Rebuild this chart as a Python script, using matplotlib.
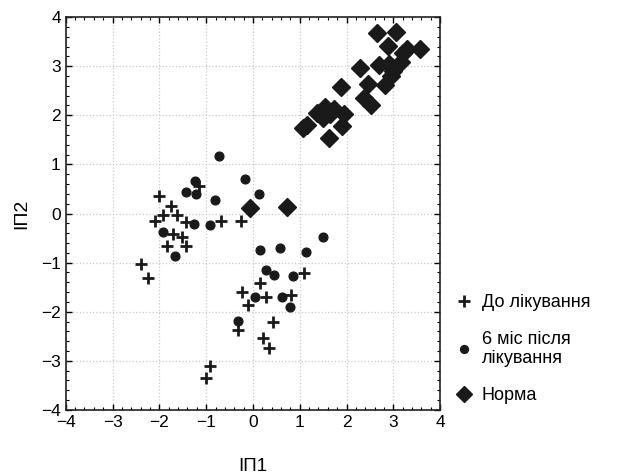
import matplotlib
matplotlib.use('Agg')
import matplotlib.pyplot as plt
from matplotlib.ticker import MultipleLocator

plt.rcParams['font.family'] = ['Liberation Sans Narrow', 'Liberation Sans', 'DejaVu Sans']

# До лікування
before_x = [-2.01, -1.16, -1.76, -1.93, -1.63, -2.10, -1.44, -1.70, -1.51, -1.83,
            -1.44, -2.40, -2.25, -0.68, -0.25, 1.09, 0.15, -0.23, -0.11, 0.27,
            0.82, 0.42, -0.31, 0.21, 0.34, -0.92, -1.00]
before_y = [0.35, 0.56, 0.15, -0.04, -0.04, -0.16, -0.18, -0.41, -0.48, -0.67,
            -0.67, -1.03, -1.31, -0.16, -0.16, -1.21, -1.41, -1.59, -1.87, -1.70,
            -1.65, -2.20, -2.37, -2.54, -2.73, -3.11, -3.35]

# 6 міс після лікування
after_x = [-0.73, -1.23, -1.21, -1.43, -0.82, -0.17, 0.13, -1.27, -0.91, -1.93,
           -1.66, 1.49, 0.15, 0.57, 1.13, 0.27, 0.46, 0.86, 0.04, 0.62, 0.80, -0.31]
after_y = [1.17, 0.66, 0.40, 0.43, 0.27, 0.71, 0.40, -0.21, -0.24, -0.37,
           -0.86, -0.47, -0.75, -0.70, -0.79, -1.15, -1.26, -1.28, -1.70, -1.70,
           -1.90, -2.19]

# Норма
norm_x = [2.64, 3.06, 2.89, 3.57, 3.29, 3.20, 3.16, 2.70, 2.91, 3.00, 2.95,
          2.29, 2.83, 2.45, 2.37, 2.53, 1.88, 1.95, 1.90, 1.63, 1.15, 1.07,
          1.36, 1.53, 1.49, 1.74, 1.65, -0.06, 0.73]
norm_y = [3.67, 3.70, 3.42, 3.36, 3.36, 3.26, 3.08, 3.02, 3.05, 2.91, 2.81,
          2.97, 2.61, 2.64, 2.36, 2.22, 2.57, 2.02, 1.78, 1.53, 1.81, 1.74,
          2.05, 2.16, 1.95, 2.12, 2.02, 0.11, 0.14]

fig = plt.figure(figsize=(6.2, 4.75), dpi=100)
ax = fig.add_axes([0.106, 0.137, 0.604, 0.827])

ax.plot(before_x, before_y, linestyle='none', marker='+', color='#1a1a1a',
        markersize=9, markeredgewidth=2.0, label='До лікування')
ax.plot(after_x, after_y, linestyle='none', marker='o', color='#1a1a1a',
        markersize=6.3, label='6 міс після\nлікування')
ax.plot(norm_x, norm_y, linestyle='none', marker='D', color='#1a1a1a',
        markersize=9.5, markeredgewidth=1, label='Норма')

ax.set_xlim(-4, 4)
ax.set_ylim(-4, 4)
ax.xaxis.set_major_locator(MultipleLocator(1))
ax.yaxis.set_major_locator(MultipleLocator(1))
ax.xaxis.set_minor_locator(MultipleLocator(0.2))
ax.yaxis.set_minor_locator(MultipleLocator(0.2))
ax.grid(True, which='major', color='#c8c8c8', linestyle=':', linewidth=0.9)
ax.tick_params(which='both', direction='in', top=True, right=True, labelsize=12.5)
ax.tick_params(which='major', length=4, width=1)
ax.tick_params(which='minor', length=2.5, width=0.8)
for s in ax.spines.values():
    s.set_linewidth(1.2)
    s.set_color('#222222')

ax.set_xlabel('ІП1', fontsize=13.5, labelpad=20)
ax.set_ylabel('ІП2', fontsize=14, labelpad=8)

leg = ax.legend(loc='center left', bbox_to_anchor=(1.0, 0.155), frameon=False,
                fontsize=13, handlelength=0.8, handletextpad=0.6, labelspacing=1.1,
                borderaxespad=0.5, markerscale=0.9)

fig.savefig('out.png', dpi=100)
